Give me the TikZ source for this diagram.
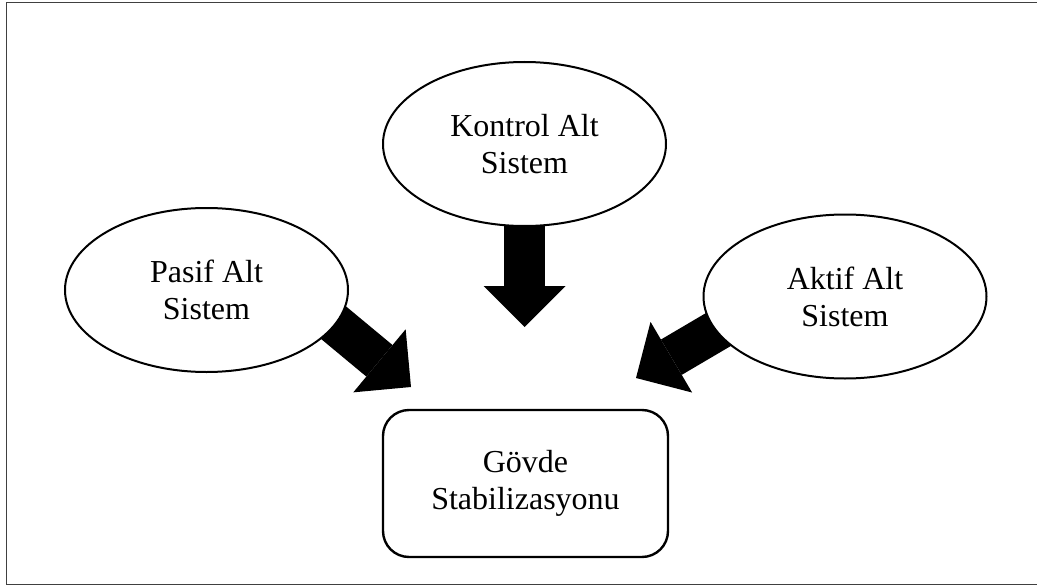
\documentclass[tikz,border=0pt]{standalone}
\usepackage{fontspec}
\setmainfont{Liberation Serif}
\usetikzlibrary{arrows.meta,shapes.geometric,backgrounds}
\tikzset{
  subsys/.style={ellipse,draw,line width=2pt,fill=white,
    minimum width=283pt,minimum height=164pt,inner sep=0pt,align=center},
  body/.style={rectangle,rounded corners=26pt,draw,line width=2.4pt,fill=white,
    minimum width=285pt,minimum height=147pt,align=center},
  fatarrow/.style={line width=41pt,
    -{Triangle[length=41pt,width=82pt,line width=0pt]}},
}
\begin{document}
\begin{tikzpicture}[x=1pt,y=-1pt,font=\fontsize{32}{37}\selectfont]
    \useasboundingbox (0,0) rectangle (1037,586);
    \draw[line width=1.6pt,black!75] (6.5,2.5) rectangle (1045,584.5);
    % sub systems
    \node[subsys] (kontrol) at (524.5,144) {Kontrol Alt\\Sistem};
    \node[subsys] (pasif) at (206.5,290) {Pasif Alt\\Sistem};
    \node[subsys] (aktif) at (845,296.5) {Aktif Alt\\Sistem};
    \node[body] (govde) at (525.5,483.5) {G\"ovde\\Stabilizasyonu};
    % arrow tips
    \path (kontrol.south) ++(0,100) coordinate (tipK);
    \coordinate (tipP) at (411,387);
    \coordinate (tipA) at (636,378);
    \begin{pgfonlayer}{background}
        \draw[fatarrow,shorten <=-20pt] (kontrol.south) -- (tipK);
        \draw[fatarrow,shorten <=-30pt] (pasif.-15) -- (tipP);
        \draw[fatarrow,shorten <=-30pt] (aktif.-165) -- (tipA);
    \end{pgfonlayer}
\end{tikzpicture}
\end{document}
